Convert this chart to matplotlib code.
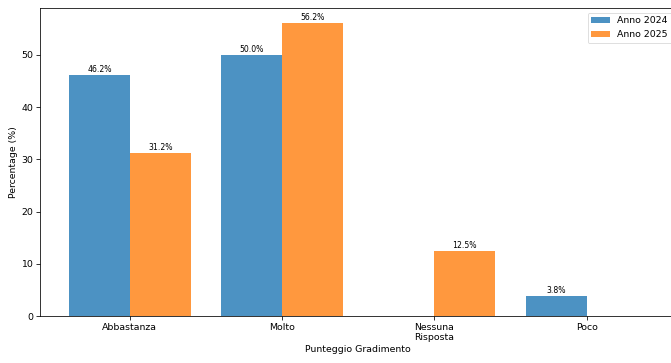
import matplotlib
matplotlib.use("Agg")
import matplotlib.pyplot as plt
import numpy as np

categories = ["Abbastanza", "Molto", "Nessuna\nRisposta", "Poco"]
anno_2024 = [46.2, 50.0, 0.0, 3.8]
anno_2025 = [31.2, 56.2, 12.5, 0.0]
series_labels = ["Anno 2024", "Anno 2025"]

DPI = 56
fig = plt.figure(figsize=(671 / DPI, 363 / DPI), dpi=DPI)
W, H = 671, 363
ax = fig.add_axes([40 / W, (H - 316) / H, (676.5 - 40) / W, (316 - 8) / H])

x = np.arange(len(categories))
width = 0.4
b1 = ax.bar(x - width / 2, anno_2024, width, color="#1f77b4", alpha=0.8, label=series_labels[0])
b2 = ax.bar(x + width / 2, anno_2025, width, color="#ff7f0e", alpha=0.8, label=series_labels[1])

for bars, vals in ((b1, anno_2024), (b2, anno_2025)):
    for rect, v in zip(bars, vals):
        if v > 0:
            ax.text(rect.get_x() + rect.get_width() / 2, v + 0.2, f"{v:.1f}%",
                    ha="center", va="bottom", fontsize=10)

ax.set_xticks(x)
ax.set_xticklabels(categories, fontsize=12)
ax.tick_params(axis="both", labelsize=12, length=5, width=1.0)
for s in ax.spines.values():
    s.set_linewidth(1.0)
ax.set_xlabel("Punteggio Gradimento", fontsize=12)
ax.set_ylabel("Percentage (%)", fontsize=12)
ax.set_ylim(0, 59.0)
ax.set_yticks([0, 10, 20, 30, 40, 50])
ax.legend(loc="upper right", fontsize=12)

fig.savefig("out.png", dpi=DPI)
